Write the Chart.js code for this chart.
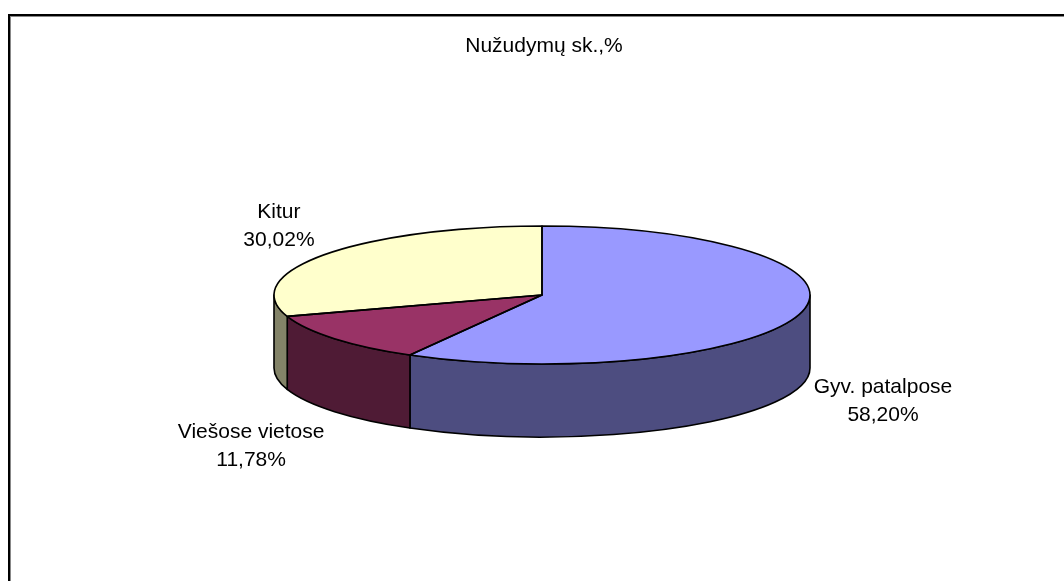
<!DOCTYPE html>
<html>
<head>
<meta charset="utf-8">
<style>
html,body{margin:0;padding:0;background:#fff;}
#wrap{width:1064px;height:581px;position:relative;}
</style>
<script src="https://cdn.jsdelivr.net/npm/chart.js@4.4.1/dist/chart.umd.min.js"></script>
</head>
<body>
<div id="wrap"><canvas id="c" width="1064" height="581"></canvas></div>
<script>
const TITLE = 'Nužudymų sk.,%';
const CATEGORIES = ['Gyv. patalpose', 'Viešose vietose', 'Kitur'];
const VALUES = [58.20, 11.78, 30.02];
const VALUE_LABELS = ['58,20%', '11,78%', '30,02%'];
const TOP_COLORS = ['#9999FF', '#993366', '#FFFFCC'];
const SIDE_COLORS = ['#4D4D80', '#4F1B35', '#838368'];

const FONT = '21px "Liberation Sans", Arial, sans-serif';
const TILT = 69 / 268;   // vertical squash of the pie
const DEPTH = 73;        // thickness of the pie in px

const pie3d = {
  id: 'pie3d',
  beforeDraw(chart) {
    const ctx = chart.ctx;
    ctx.save();
    ctx.fillStyle = '#fff';
    ctx.fillRect(0, 0, chart.width, chart.height);
    ctx.strokeStyle = '#888';
    ctx.lineWidth = 1;
    ctx.strokeRect(10.5, 16.5, 1200, 700);
    ctx.strokeStyle = '#000';
    ctx.lineWidth = 2;
    ctx.strokeRect(9, 15, 1200, 700);
    ctx.fillStyle = '#000';
    ctx.font = FONT;
    ctx.textAlign = 'center';
    ctx.textBaseline = 'alphabetic';
    ctx.fillText(TITLE, 544, 52);
    ctx.restore();
  },
  beforeDatasetsDraw(chart) {
    const ctx = chart.ctx;
    const meta = chart.getDatasetMeta(0);
    const el0 = meta.data[0];
    const cx = el0.x, cy = el0.y, rx = el0.outerRadius, ry = rx * TILT;
    ctx.save();
    ctx.lineWidth = 1.6;
    ctx.strokeStyle = '#000';
    ctx.lineJoin = 'round';
    meta.data.forEach((el, i) => {
      const a1 = Math.max(el.startAngle, 0);
      const a2 = Math.min(el.endAngle, Math.PI);
      if (a2 > a1) {
        ctx.beginPath();
        ctx.ellipse(cx, cy, rx, ry, 0, a1, a2, false);
        ctx.lineTo(cx + rx * Math.cos(a2), cy + ry * Math.sin(a2) + DEPTH);
        ctx.ellipse(cx, cy + DEPTH, rx, ry, 0, a2, a1, true);
        ctx.closePath();
        ctx.fillStyle = SIDE_COLORS[i];
        ctx.fill();
        ctx.stroke();
      }
    });
    ctx.restore();
    ctx.save();
    ctx.translate(cx, cy);
    ctx.scale(1, TILT);
    ctx.translate(-cx, -cy);
  },
  afterDatasetsDraw(chart) {
    const ctx = chart.ctx;
    ctx.restore();
    const meta = chart.getDatasetMeta(0);
    const el0 = meta.data[0];
    const cx = el0.x, cy = el0.y, rx = el0.outerRadius, ry = rx * TILT;
    ctx.save();
    ctx.lineWidth = 1.6;
    ctx.strokeStyle = '#000';
    ctx.lineJoin = 'round';
    meta.data.forEach((el) => {
      ctx.beginPath();
      ctx.moveTo(cx, cy);
      ctx.ellipse(cx, cy, rx, ry, 0, el.startAngle, el.endAngle, false);
      ctx.closePath();
      ctx.stroke();
    });
    // labels
    ctx.font = FONT;
    ctx.fillStyle = '#000';
    ctx.textAlign = 'center';
    ctx.textBaseline = 'middle';
    const lineH = 28;
    meta.data.forEach((el, i) => {
      const m = (el.startAngle + el.endAngle) / 2;
      const c = Math.cos(m), s = Math.sin(m);
      const ax = cx + (rx + 13) * c;
      const ay = cy + (ry + 52) * s + (s > 0 ? DEPTH : 0);
      const lines = [CATEGORIES[i], VALUE_LABELS[i]];
      const w = Math.max(...lines.map(t => ctx.measureText(t).width));
      const bx = c >= 0 ? ax + w / 2 : ax - w / 2;
      const top = ay - lineH / 2;
      lines.forEach((t, k) => ctx.fillText(t, bx, top + k * lineH + 2));
    });
    ctx.restore();
  }
};

new Chart(document.getElementById('c'), {
  type: 'pie',
  data: {
    labels: CATEGORIES,
    datasets: [{
      data: VALUES,
      backgroundColor: TOP_COLORS,
      borderWidth: 0
    }]
  },
  options: {
    responsive: false,
    animation: false,
    events: [],
    rotation: 0,
    layout: { padding: { left: 274, right: 254, top: 27, bottom: 18 } },
    plugins: {
      legend: { display: false },
      title: { display: false },
      tooltip: { enabled: false }
    }
  },
  plugins: [pie3d]
});
</script>
</body>
</html>
